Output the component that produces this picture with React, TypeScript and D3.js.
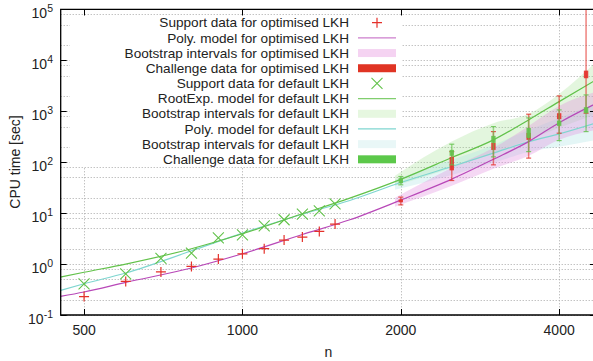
import * as d3 from "d3";

// support data (n = 500..1500)
const supportN = [500, 600, 700, 800, 900, 1000, 1100, 1200, 1300, 1400, 1500];
const optSupport = [0.23, 0.456, 0.7, 0.9, 1.25, 1.59, 2.0, 2.96, 3.38, 4.36, 6.09];
const defSupport = [0.41, 0.64, 1.29, 1.64, 3.28, 3.75, 5.6, 7.4, 9.55, 11.1, 15.2];

// fitted models
const modelN = [451, 500, 600, 800, 1000, 1300, 1600, 2000, 2500, 3000, 3500, 4000, 4700];
const optPoly = [0.232, 0.283, 0.436, 0.835, 1.59, 3.8, 7.39, 18.0, 46.4, 114, 253, 595, 1416];
const defRootExp = [0.556, 0.69, 1.0, 2.0, 3.93, 9.7, 19.7, 46, 123, 274, 675, 1542, 4130];
const defPoly = [0.303, 0.41, 0.667, 1.82, 4.05, 9.5, 17.7, 39.8, 82, 150, 253, 359, 589];

// bootstrap intervals
const bandN = [1950, 2500, 3000, 3500, 4000, 4700];
const optBandLo = [13.3, 34.3, 73.9, 133, 274, 430];
const optBandHi = [20, 77.3, 191, 515, 1270, 2390];
const rootBandLo = [34.3, 77.3, 152, 274, 471, 873];
const rootBandHi = [53.9, 253, 582, 885, 2183, 9270];
const polyBandLo = [28.6, 56.2, 96.9, 159, 200, 274];
const polyBandHi = [45, 111, 218, 428, 739, 1390];

// challenge data (min, q1, q3, max)
const challengeN = [2000, 2500, 3000, 3500, 4000, 4500];
const optChLow = [14.5, 43.6, 88.5, 120, 370, 914];
const optChQ1 = [16.3, 69, 174, 274, 697, 4436];
const optChQ3 = [18.6, 127, 239, 375, 914, 6255];
const optChHigh = [20.6, 161, 398, 873, 1995, 300000];
const defChLow = [35.9, 88.5, 127, 161, 265, 398];
const defChQ1 = [38.7, 133, 239, 299, 515, 914];
const defChQ3 = [48.6, 174, 328, 471, 654, 1198];
const defChHigh = [52.2, 225, 499, 739, 1060, 2087];

const xTicks = [500, 1000, 2000, 4000];
const yExps = [-1, 0, 1, 2, 3, 4, 5];
const yGridMult = [1, 2, 5, 8];

const legendLabels = [
  "Support data for optimised LKH",
  "Poly. model for optimised LKH",
  "Bootstrap intervals for optimised LKH",
  "Challenge data for optimised LKH",
  "Support data for default LKH",
  "RootExp. model for default LKH",
  "Bootstrap intervals for default LKH",
  "Poly. model for default LKH",
  "Bootstrap intervals for default LKH",
  "Challenge data for default LKH",
];

const W = 593;
const H = 361;
const left = 60.7;
const right = 596;
const top = 9.3;
const bottom = 315;

const RED = "#e4302a";
const MAGENTA = "#b848b8";
const GREEN = "#62c24a";
const CYAN = "#7fd6d0";
const GRID = "#a8a8a8";
const FONT = "'Liberation Sans', Arial, sans-serif";

export default function App() {
  const x = d3.scaleLog().domain([451.4, 4700]).range([left, right]);
  const y = d3.scaleLog().domain([0.1, 1e5]).range([bottom, top]);

  const line = d3
    .line<[number, number]>()
    .x((d) => x(d[0]))
    .y((d) => y(d[1]))
    .curve(d3.curveMonotoneX);

  const area = d3
    .area<[number, number, number]>()
    .x((d) => x(d[0]))
    .y0((d) => y(d[1]))
    .y1((d) => y(d[2]))
    .curve(d3.curveMonotoneX);

  const zip = (vals: number[]) => modelN.map((n, i) => [n, vals[i]] as [number, number]);
  const band = (lo: number[], hi: number[]) =>
    bandN.map((n, i) => [n, lo[i], hi[i]] as [number, number, number]);

  const yGrid: number[] = [];
  yExps.forEach((e) => {
    if (e === 5) return;
    yGridMult.forEach((m) => yGrid.push(m * Math.pow(10, e)));
  });
  yGrid.push(1e5);

  const candle = (
    key: string,
    color: string,
    lo: number[],
    q1: number[],
    q3: number[],
    hi: number[],
  ) =>
    challengeN.map((n, i) => {
      const cx = x(n);
      return (
        <g key={key + n}>
          <line x1={cx} x2={cx} y1={y(lo[i])} y2={y(hi[i])} stroke={color} strokeWidth={1.5} opacity={0.6} />
          <line x1={cx - 2.5} x2={cx + 2.5} y1={y(lo[i])} y2={y(lo[i])} stroke={color} strokeWidth={1.2} opacity={0.8} />
          <line x1={cx - 2.5} x2={cx + 2.5} y1={y(hi[i])} y2={y(hi[i])} stroke={color} strokeWidth={1.2} opacity={0.8} />
          <rect
            x={cx - 2.2}
            width={4.4}
            y={y(q3[i])}
            height={Math.max(1.5, y(q1[i]) - y(q3[i]))}
            fill={color}
            opacity={0.9}
          />
        </g>
      );
    });

  const plus = (cx: number, cy: number, k: string) => (
    <path key={k} d={`M${cx - 5},${cy}H${cx + 5}M${cx},${cy - 5}V${cy + 5}`} stroke={RED} strokeWidth={1.2} fill="none" />
  );
  const cross = (cx: number, cy: number, k: string) => (
    <path
      key={k}
      d={`M${cx - 5.5},${cy - 5.5}L${cx + 5.5},${cy + 5.5}M${cx - 5.5},${cy + 5.5}L${cx + 5.5},${cy - 5.5}`}
      stroke={GREEN}
      strokeWidth={1.1}
      fill="none"
    />
  );

  const legX0 = 358;
  const legX1 = 396;
  const legMid = (legX0 + legX1) / 2;
  const legendSample = (i: number, cy: number) => {
    switch (i) {
      case 0:
        return plus(legMid, cy, "lp");
      case 1:
        return <line x1={legX0} x2={legX1} y1={cy} y2={cy} stroke={MAGENTA} strokeWidth={1.2} opacity={0.7} />;
      case 2:
        return <rect x={legX0} width={legX1 - legX0} y={cy - 4} height={8} fill="#f5d3f2" />;
      case 3:
        return <rect x={legX0} width={legX1 - legX0} y={cy - 4} height={8} fill="#e03424" />;
      case 4:
        return cross(legMid, cy, "lx");
      case 5:
        return <line x1={legX0} x2={legX1} y1={cy} y2={cy} stroke={GREEN} strokeWidth={1.2} opacity={0.8} />;
      case 6:
        return <rect x={legX0} width={legX1 - legX0} y={cy - 4} height={8} fill="#e6f7e0" />;
      case 7:
        return <line x1={legX0} x2={legX1} y1={cy} y2={cy} stroke={CYAN} strokeWidth={1.2} />;
      case 8:
        return <rect x={legX0} width={legX1 - legX0} y={cy - 4} height={8} fill="#e9f7f7" />;
      default:
        return <rect x={legX0} width={legX1 - legX0} y={cy - 4} height={8} fill="#5cc84a" />;
    }
  };

  return (
    <svg
      width={W}
      height={H}
      style={{ position: "absolute", left: 0, top: 0, background: "#fff" }}
      fontFamily={FONT}
    >
      <defs>
        <clipPath id="plot">
          <rect x={left} y={top} width={right - left} height={bottom - top} />
        </clipPath>
      </defs>

      {/* grid */}
      <g stroke={GRID} strokeWidth={1} strokeDasharray="1,2">
        {yGrid.map((v) => (
          <line key={"gy" + v} x1={left} x2={right} y1={Math.round(y(v)) + 0.5} y2={Math.round(y(v)) + 0.5} />
        ))}
        {xTicks.map((v) => (
          <line key={"gx" + v} x1={Math.round(x(v)) + 0.5} x2={Math.round(x(v)) + 0.5} y1={top} y2={bottom} />
        ))}
      </g>

      {/* opaque key box */}
      <rect x={70} y={16} width={332} height={151} fill="#fff" />

      <g clipPath="url(#plot)">
        <path d={area(band(rootBandLo, rootBandHi)) ?? ""} fill="#8fdc7c" opacity={0.25} />
        <path d={area(band(polyBandLo, polyBandHi)) ?? ""} fill="#a7e2e2" opacity={0.3} />
        <path d={area(band(optBandLo, optBandHi)) ?? ""} fill="#e28ee0" opacity={0.35} />

        <path d={line(zip(defPoly)) ?? ""} fill="none" stroke={CYAN} strokeWidth={1.2} />
        <path d={line(zip(defRootExp)) ?? ""} fill="none" stroke={GREEN} strokeWidth={1.2} />
        <path d={line(zip(optPoly)) ?? ""} fill="none" stroke={MAGENTA} strokeWidth={1.2} />

        {candle("o", RED, optChLow, optChQ1, optChQ3, optChHigh)}
        {candle("d", GREEN, defChLow, defChQ1, defChQ3, defChHigh)}

        {supportN.map((n, i) => cross(x(n), y(defSupport[i]), "x" + n))}
        {supportN.map((n, i) => plus(x(n), y(optSupport[i]), "p" + n))}
      </g>

      {/* border */}
      <path d={`M${right},${top}H${left}V${bottom}H${right}`} fill="none" stroke="#000" strokeWidth={1.3} />

      {/* ticks */}
      <g stroke="#000" strokeWidth={1}>
        {yExps.map((e) => {
          const yy = Math.round(y(Math.pow(10, e))) + 0.5;
          return (
            <g key={"ty" + e}>
              <line x1={left} x2={left + 6} y1={yy} y2={yy} />
              <line x1={right - 6} x2={right} y1={yy} y2={yy} />
            </g>
          );
        })}
        {xTicks.map((v) => {
          const xx = Math.round(x(v)) + 0.5;
          return (
            <g key={"tx" + v}>
              <line x1={xx} x2={xx} y1={bottom} y2={bottom - 6} />
              <line x1={xx} x2={xx} y1={top} y2={top + 6} />
            </g>
          );
        })}
      </g>

      {/* tick labels */}
      <g fontSize={14} fill="#222">
        {yExps.map((e) => (
          <text key={"ly" + e} x={53} y={y(Math.pow(10, e)) + 9} textAnchor="end">
            10
            <tspan dy={-6} fontSize={10.5}>
              {String(e)}
            </tspan>
          </text>
        ))}
        {xTicks.map((v) => (
          <text key={"lx" + v} x={x(v)} y={335} textAnchor="middle">
            {v}
          </text>
        ))}
        <text x={(left + right) / 2} y={357} textAnchor="middle">
          n
        </text>
        <text transform="translate(19.5,162) rotate(-90)" textAnchor="middle">
          CPU time [sec]
        </text>
      </g>

      {/* legend */}
      <g fontSize={13.6} fill="#222">
        {legendLabels.map((lab, i) => {
          const cy = 22.7 + i * 15.18;
          return (
            <g key={"lg" + i}>
              <text x={349} y={cy + 4.7} textAnchor="end">
                {lab}
              </text>
              {legendSample(i, cy)}
            </g>
          );
        })}
      </g>
    </svg>
  );
}
